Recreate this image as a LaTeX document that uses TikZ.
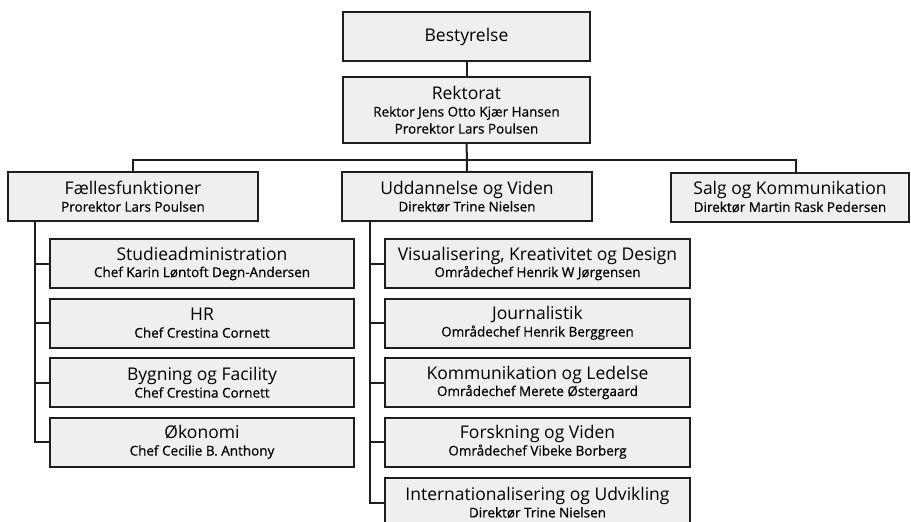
\documentclass[tikz,border=0pt]{standalone}
\usepackage{fontspec}
\setmainfont{Open Sans}
\newfontface\semiface{Open Sans}[FakeBold=0.5]
\usepackage{tikz}
\usetikzlibrary{positioning}

\definecolor{boxfill}{HTML}{EFEFEF}
\definecolor{boxline}{HTML}{1E1E1E}

\newcommand{\hd}[1]{{\normalfont\fontsize{17.5}{17}\selectfont #1}}

\begin{document}
\begin{tikzpicture}[x=1pt,y=-1pt,
    unitbox/.style={shape=rectangle,draw=boxline,fill=boxfill,line width=2pt,
        align=center,inner sep=0pt,minimum height=49pt,
        font=\semiface\fontsize{13.5}{17}\selectfont},
    topbox/.style={unitbox,minimum width=247pt},
    mainbox/.style={unitbox,minimum width=250pt},
    leftbox/.style={unitbox,minimum width=304pt},
    rightbox/.style={unitbox,minimum width=305pt},
    link/.style={draw=boxline,line width=2pt}]
    \clip (0,0) rectangle (911,522);
	% top of the tree
    \node (best) [topbox] at (466.5,36.5) {\hd{Bestyrelse}};
	\node (rekt) [topbox,minimum height=66pt] at (466.5,110) {\hd{Rektorat}\\Rektor Jens Otto Kjær Hansen\\Prorektor Lars Poulsen};
	% divisions
	\node (fael) [mainbox] at (133,196.5) {\hd{Fællesfunktioner}\\Prorektor Lars Poulsen};
	\node (udd) [mainbox] at (467,196.5) {\hd{Uddannelse og Viden}\\Direktør Trine Nielsen};
	\node (salg) [unitbox,minimum width=238pt] at (790,197) {\hd{Salg og Kommunikation}\\Direktør Martin Rask Pedersen};
	% units under Fællesfunktioner
	\node (stud) [leftbox] at (202,263.5) {\hd{Studieadministration}\\Chef Karin Løntoft Degn-Andersen};
	\node (hr) [leftbox,below=8.5pt of stud] {\hd{HR}\\Chef Crestina Cornett};
	\node (byg) [leftbox,below=8.5pt of hr] {\hd{Bygning og Facility}\\Chef Crestina Cornett};
	\node (oko) [leftbox,below=8.5pt of byg] {\hd{Økonomi}\\Chef Cecilie B. Anthony};
	% units under Uddannelse og Viden
	\node (vis) [rightbox] at (537.5,263.5) {\hd{Visualisering, Kreativitet og Design}\\Områdechef Henrik W Jørgensen};
	\node (jour) [rightbox,below=8.5pt of vis] {\hd{Journalistik}\\Områdechef Henrik Berggreen};
	\node (kom) [rightbox,below=8.5pt of jour] {\hd{Kommunikation og Ledelse}\\Områdechef Merete Østergaard};
	\node (forsk) [rightbox,below=8.5pt of kom] {\hd{Forskning og Viden}\\Områdechef Vibeke Borberg};
	\node (intl) [rightbox,below=9.5pt of forsk] {\hd{Internationalisering og Udvikling}\\Direktør Trine Nielsen};

	% connections
	\coordinate (bar) at (466.5,160);
	\coordinate (ftrunk) at ([xshift=28pt]fael.south west);
	\coordinate (utrunk) at ([xshift=29pt]udd.south west);
	\draw[link] (best) to (rekt);
	\draw[link] (rekt) to (udd);
	\draw[link] (bar) -| (fael.north);
	\draw[link] (bar) -| ([xshift=6pt]salg.north);
	\foreach \n in {stud,hr,byg,oko}
	    \draw[link] (ftrunk) |- (\n.west);
	\foreach \n in {vis,jour,kom,forsk,intl}
	    \draw[link] (utrunk) |- (\n.west);
\end{tikzpicture}
\end{document}
